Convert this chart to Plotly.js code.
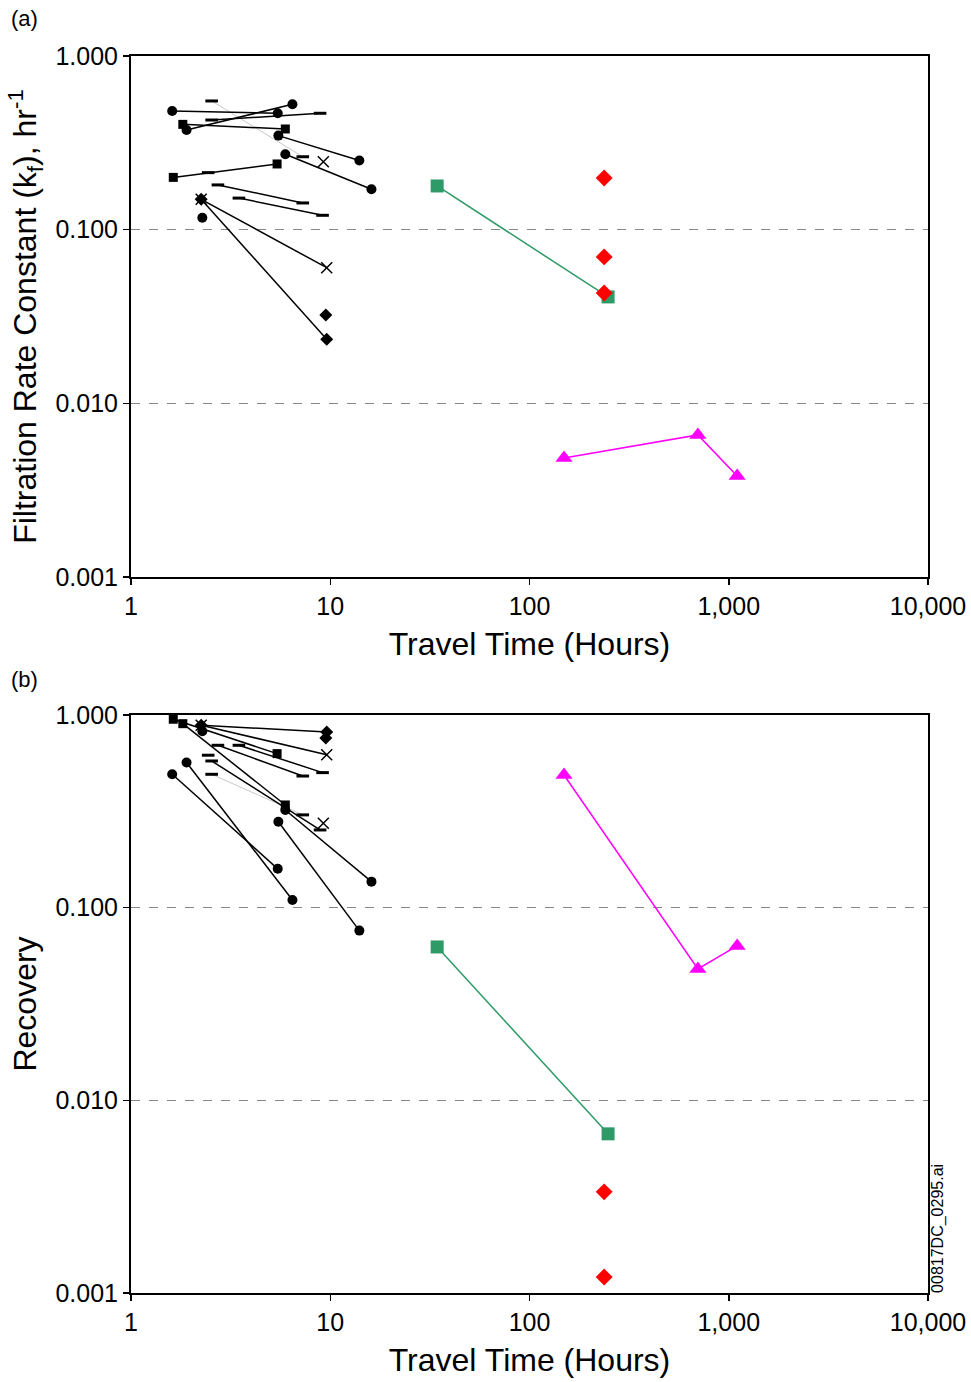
<!DOCTYPE html>
<html><head><meta charset="utf-8">
<script src="https://cdn.plot.ly/plotly-3.0.1.min.js"></script>
<style>html,body{margin:0;padding:0;background:#fff}#chart{width:971px;height:1382px}</style>
</head><body><div id="chart"></div>
<script>
// Travel time (hours), filtration rate constant kf (1/hr) for panel (a), recovery for panel (b)
const circ1_t = [1.61, 5.45],  circ1_kf = [0.482, 0.468],  circ1_rec = [0.492, 0.159];
const circ2_t = [1.90, 6.46],  circ2_kf = [0.375, 0.527],  circ2_rec = [0.566, 0.1096];
const circ3_t = [5.49, 14.0],  circ3_kf = [0.348, 0.250],  circ3_rec = [0.279, 0.076];
const circ4_t = [5.95, 16.1],  circ4_kf = [0.272, 0.171],  circ4_rec = [0.321, 0.1364];
const sq1_t = [1.63, 5.41],    sq1_kf = [0.200, 0.239],    sq1_rec = [0.950, 0.630];
const sq2_t = [1.82, 5.95],    sq2_kf = [0.404, 0.380],    sq2_rec = [0.901, 0.341];
const dash1_t = [2.54, 8.89],  dash1_kf = [0.428, 0.468],  dash1_rec = [0.577, 0.253];
const dash2_t = [2.73, 7.28],  dash2_kf = [0.181, 0.1425], dash2_rec = [0.696, 0.482];
const dash3_t = [3.48, 9.15],  dash3_kf = [0.152, 0.121],  dash3_rec = [0.696, 0.502];
const dashGray_t = [2.54, 7.28], dashGray_kf = [0.551, 0.263], dashGray_rec = [0.492, 0.303];
const x1_t = [2.25, 9.6],      x1_kf = [0.1496, 0.0604],   x1_rec = [0.884, 0.622];
const dia1_t = [2.25, 9.6],    dia1_kf = [0.1496, 0.0234], dia1_rec = [0.884, 0.816];
// single points
const circS_t = [2.28], circS_kf = [0.117], circS_rec = [0.823];
const diaS_t = [9.5],   diaS_kf = [0.0323], diaS_rec = [0.760];
const xS_t = [9.23],    xS_kf = [0.246],  xS_rec = [0.274];
const dashS_t = [2.44], dashS_kf = [0.213], dashS_rec = [0.618];
// coloured series
const green_t = [34.4, 248],   green_kf = [0.1785, 0.041], green_rec = [0.0625, 0.0067];
const red_t_kf = [237, 237, 237], red_kf = [0.1985, 0.0697, 0.0432];
const red_t_rec = [237, 237],  red_rec = [0.00335, 0.00121];
const mag_t = [149, 700, 1102], mag_kf = [0.00485, 0.00658, 0.00382], mag_rec = [0.488, 0.0481, 0.0633];

const xTicks = [1, 10, 100, 1000, 10000];
const xTickText = ['1', '10', '100', '1,000', '10,000'];
const yTicks = [0.001, 0.01, 0.1, 1];
const yTickText = ['0.001', '0.010', '0.100', '1.000'];

const M = {
  circle: {symbol: 'circle', size: 10, color: '#000'},
  square: {symbol: 'square', size: 9, color: '#000'},
  dash: {symbol: 'line-ew', size: 9, color: '#000', line: {width: 3, color: '#000'}},
  x: {symbol: 'x-thin', size: 11, color: '#000', line: {width: 1.5, color: '#000'}},
  diamond: {symbol: 'diamond', size: 10, color: '#000'},
  green: {symbol: 'square', size: 13, color: '#2e9a68'},
  red: {symbol: 'diamond', size: 13, color: '#ff0000'},
  mag: {symbol: 'triangle-up', size: 15, color: '#ff00ff'}
};

const traces = [];
function add(t, yv, marker, lineColor, lineWidth, panel, mode) {
  traces.push({
    x: t, y: yv, type: 'scatter', mode: mode || 'lines+markers',
    marker: marker, line: {color: lineColor || '#000', width: lineWidth || 1.5},
    xaxis: panel === 1 ? 'x' : 'x2', yaxis: panel === 1 ? 'y' : 'y2',
    showlegend: false, hoverinfo: 'x+y', cliponaxis: false
  });
}
function both(t, kf, rec, marker, lineColor, lineWidth, mode) {
  add(t, kf, marker, lineColor, lineWidth, 1, mode);
  add(t, rec, marker, lineColor, lineWidth, 2, mode);
}
both(dashGray_t, dashGray_kf, dashGray_rec, M.dash, '#c8c8c8', 1);
both(circ1_t, circ1_kf, circ1_rec, M.circle);
both(circ2_t, circ2_kf, circ2_rec, M.circle);
both(circ3_t, circ3_kf, circ3_rec, M.circle);
both(circ4_t, circ4_kf, circ4_rec, M.circle);
both(sq1_t, sq1_kf, sq1_rec, M.square);
both(sq2_t, sq2_kf, sq2_rec, M.square);
both(dash1_t, dash1_kf, dash1_rec, M.dash);
both(dash2_t, dash2_kf, dash2_rec, M.dash);
both(dash3_t, dash3_kf, dash3_rec, M.dash);
both(x1_t, x1_kf, x1_rec, M.x);
both(dia1_t, dia1_kf, dia1_rec, M.diamond);
both(circS_t, circS_kf, circS_rec, M.circle, null, null, 'markers');
both(diaS_t, diaS_kf, diaS_rec, M.diamond, null, null, 'markers');
both(xS_t, xS_kf, xS_rec, M.x, null, null, 'markers');
both(dashS_t, dashS_kf, dashS_rec, M.dash, null, null, 'markers');
both(green_t, green_kf, green_rec, M.green, '#2e9a68', 1.5);
add(red_t_kf, red_kf, M.red, null, null, 1, 'markers');
add(red_t_rec, red_rec, M.red, null, null, 2, 'markers');
both(mag_t, mag_kf, mag_rec, M.mag, '#ff00ff', 1.5);

const FONT = 'Liberation Sans, Arial, sans-serif';
function xAxis(anchor) {
  return {
    type: 'log', range: [0, 4], anchor: anchor,
    tickmode: 'array', tickvals: xTicks, ticktext: xTickText,
    ticks: 'outside', ticklen: 6, tickwidth: 1.5, tickcolor: '#000',
    showline: true, mirror: true, linecolor: '#000', linewidth: 2,
    showgrid: false, zeroline: false,
    tickfont: {family: FONT, size: 25, color: '#000'},
    title: {text: 'Travel Time (Hours)', font: {family: FONT, size: 32, color: '#000'}, standoff: 14}
  };
}
function yAxis(anchor, domain, title) {
  return {
    type: 'log', range: [-3, 0], anchor: anchor, domain: domain,
    tickmode: 'array', tickvals: yTicks, ticktext: yTickText,
    ticks: 'outside', ticklen: 6, tickwidth: 1.5, tickcolor: '#000',
    showline: true, mirror: true, linecolor: '#000', linewidth: 2,
    showgrid: true, gridcolor: '#888', gridwidth: 1, griddash: 'dash', zeroline: false,
    tickfont: {family: FONT, size: 25, color: '#000'},
    title: {text: title, font: {family: FONT, size: 32, color: '#000'}, standoff: 9}
  };
}

const layout = {
  width: 971, height: 1382,
  margin: {l: 131, r: 43, t: 56, b: 89},
  paper_bgcolor: '#fff', plot_bgcolor: '#fff',
  font: {family: FONT, color: '#000'},
  xaxis: xAxis('y'),
  yaxis: yAxis('x', [0.5788, 1], 'Filtration Rate Constant (k<sub>f</sub>), hr<sup>-1</sup>'),
  xaxis2: xAxis('y2'),
  yaxis2: yAxis('x2', [0, 0.4673], 'Recovery'),
  annotations: [
    {text: '(a)', xref: 'paper', yref: 'paper', x: -0.133, y: 1.0307, showarrow: false, xanchor: 'center', yanchor: 'middle', font: {family: FONT, size: 22}},
    {text: '(b)', xref: 'paper', yref: 'paper', x: -0.133, y: 0.4956, showarrow: false, xanchor: 'center', yanchor: 'middle', font: {family: FONT, size: 22}},
    {text: '00817DC_0295.ai', xref: 'paper', yref: 'paper', x: 1.0125, y: 0.0526, showarrow: false, textangle: -90, xanchor: 'center', yanchor: 'middle', font: {family: FONT, size: 16}}
  ]
};

Plotly.newPlot('chart', traces, layout, {displayModeBar: false, staticPlot: true});
</script>
</body></html>
